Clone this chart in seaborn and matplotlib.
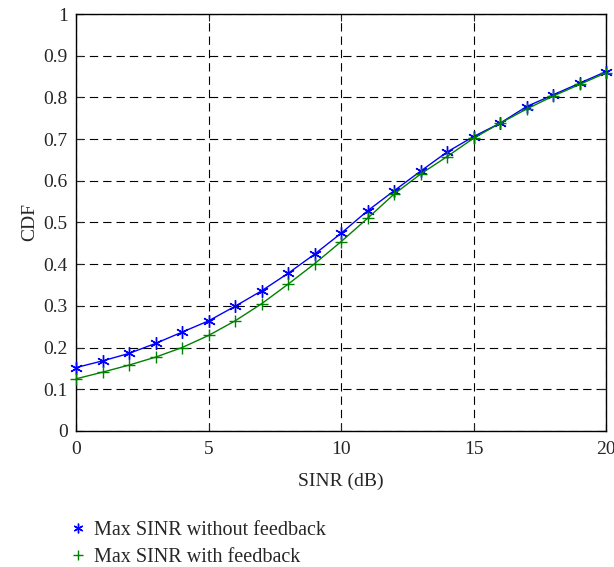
import matplotlib
matplotlib.use("Agg")
import matplotlib.pyplot as plt
import seaborn as sns
import pandas as pd
import numpy as np

sinr_db = list(range(0, 21))
cdf_without = [0.152, 0.168, 0.186, 0.210, 0.237, 0.264, 0.299, 0.336, 0.378, 0.424, 0.474,
               0.528, 0.576, 0.623, 0.669, 0.706, 0.738, 0.778, 0.806, 0.834, 0.862]
cdf_with = [0.125, 0.141, 0.158, 0.177, 0.200, 0.229, 0.264, 0.305, 0.352, 0.401, 0.454,
            0.510, 0.568, 0.616, 0.658, 0.702, 0.738, 0.772, 0.803, 0.831, 0.859]
labels = ["Max SINR without feedback", "Max SINR with feedback"]
x_ticks = [0, 5, 10, 15, 20]
y_ticks = [0, 0.1, 0.2, 0.3, 0.4, 0.5, 0.6, 0.7, 0.8, 0.9, 1]
y_tick_labels = ["0", "0.1", "0.2", "0.3", "0.4", "0.5", "0.6", "0.7", "0.8", "0.9", "1"]

sns.set_style("ticks")
plt.rcParams['font.family'] = ['Liberation Serif', 'DejaVu Serif']

df = pd.DataFrame({
    "SINR": sinr_db * 2,
    "CDF": cdf_without + cdf_with,
    "series": [labels[0]] * len(sinr_db) + [labels[1]] * len(sinr_db),
})

fig = plt.figure(figsize=(6.14, 5.67), dpi=100)
ax = fig.add_axes([0.124, 0.24, 0.863, 0.7353])

colors = {labels[0]: "#0000ff", labels[1]: "#008000"}
markers = {labels[0]: (6, 2, 0), labels[1]: "+"}
for lab in labels:
    sub = df[df["series"] == lab]
    sns.lineplot(data=sub, x="SINR", y="CDF", ax=ax, color=colors[lab], marker=markers[lab],
                 markersize=9, markeredgewidth=1.0, markeredgecolor=colors[lab],
                 linewidth=1.0, label=lab, legend=False, clip_on=False, zorder=3)

ax.set_xlim(0, 20)
ax.set_ylim(0, 1)
ax.set_xticks(x_ticks)
ax.set_yticks(y_ticks)
ax.set_yticklabels(y_tick_labels)
ax.grid(True, color="black", linestyle=(0, (7.5, 4.5)), linewidth=0.8)
ax.tick_params(direction="in", top=True, right=True, labelsize=14, length=5)
ax.tick_params(axis="x", pad=7)
ax.tick_params(axis="y", pad=6)
for s in ax.spines.values():
    s.set_visible(True)
    s.set_color("black")
    s.set_linewidth(1.0)
    s.set_zorder(2.5)
ax.set_xlabel("SINR (dB)", fontsize=14, labelpad=11)
ax.set_ylabel("CDF", fontsize=14, labelpad=4)

handles = [plt.Line2D([], [], color=colors[l], marker=markers[l], linestyle="none",
                      markersize=7, markeredgewidth=1.0) for l in labels]
fig.legend(handles, labels, loc="upper left", bbox_to_anchor=(0.115, 0.081),
           frameon=False, fontsize=14.5, handlelength=0.7, handletextpad=0.45,
           labelspacing=0.4, borderaxespad=0, borderpad=0)

fig.savefig("out.png", dpi=100)
